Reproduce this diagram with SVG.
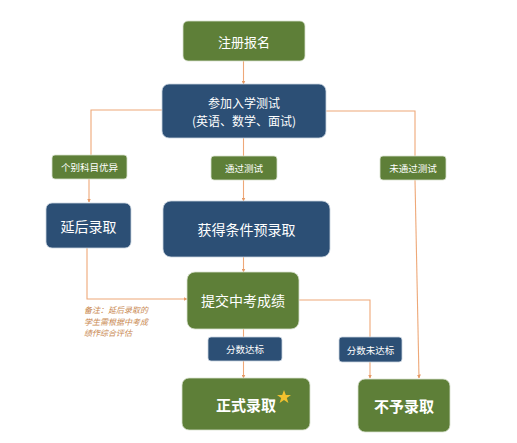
<svg xmlns="http://www.w3.org/2000/svg" width="517" height="443" viewBox="0 0 517 443">
<style>
.g{fill:#5e7f38;stroke:#d9e2cf;stroke-width:0.8}
.b{fill:#2c4f75;stroke:#c9d4e0;stroke-width:0.8}
.t{fill:#ffffff;font-family:"Noto Sans CJK SC","Noto Sans",sans-serif;text-anchor:middle;dominant-baseline:central}
.c{fill:none;stroke:#eea878;stroke-width:1.1}
.note{fill:#c98850;font-family:"Noto Sans CJK SC",sans-serif;font-size:8px;font-style:italic}
</style>
<defs>
<marker id="a" markerWidth="4" markerHeight="4" refX="3.5" refY="2" orient="auto" markerUnits="userSpaceOnUse">
<path d="M0,0 L4,2 L0,4 z" fill="#e59a66"/>
</marker>
</defs>
<rect width="517" height="443" fill="#ffffff"/>
<g id="connectors">
<path class="c" d="M243.5,61 V84" marker-end="url(#a)"/>
<path class="c" d="M162,110 H91 V155"/>
<path class="c" d="M89,179 V202" marker-end="url(#a)"/>
<path class="c" d="M326,111 H415 V156"/>
<path class="c" d="M243.5,138 V156"/>
<path class="c" d="M243.5,180 V201" marker-end="url(#a)"/>
<path class="c" d="M243.5,257 V272" marker-end="url(#a)"/>
<path class="c" d="M87,248 V299 H187" marker-end="url(#a)"/>
<path class="c" d="M243.5,329 V337"/>
<path class="c" d="M243.5,361 V378" marker-end="url(#a)"/>
<path class="c" d="M299,300 H370 V337"/>
<path class="c" d="M370,362 V378" marker-end="url(#a)"/>
<path class="c" d="M415,180 L419,378" marker-end="url(#a)"/>
</g>
<g id="n1"><rect class="g" x="183" y="21" width="122" height="40" rx="5"/><text class="t" x="244" y="41" font-size="13">注册报名</text></g>
<g id="n2"><rect class="b" x="162" y="84" width="164" height="54" rx="7"/><text class="t" x="244" y="102.5" font-size="12">参加入学测试</text><text class="t" x="244" y="120.5" font-size="12">(英语、数学、面试)</text></g>
<g id="l1"><rect class="g" x="52" y="155" width="75" height="24" rx="3"/><text class="t" x="89.5" y="167" font-size="9.5">个别科目优异</text></g>
<g id="l2"><rect class="g" x="211" y="156" width="66" height="24" rx="3"/><text class="t" x="244" y="168" font-size="9.5">通过测试</text></g>
<g id="l3"><rect class="g" x="380" y="156" width="66" height="24" rx="3"/><text class="t" x="413" y="168" font-size="9.5">未通过测试</text></g>
<g id="n3"><rect class="b" x="46" y="203" width="85" height="45" rx="6"/><text class="t" x="88.5" y="225.5" font-size="14">延后录取</text></g>
<g id="n4"><rect class="b" x="163" y="201" width="167" height="56" rx="8"/><text class="t" x="246.5" y="229" font-size="14">获得条件预录取</text></g>
<g id="n5"><rect class="g" x="187" y="272" width="112" height="57" rx="8"/><text class="t" x="243" y="300" font-size="14">提交中考成绩</text></g>
<g id="note"><text class="note" x="84" y="313">备注：延后录取的</text><text class="note" x="84" y="324.6">学生需根据中考成</text><text class="note" x="84" y="336.2">绩作综合评估</text></g>
<g id="l4"><rect class="b" x="208" y="337" width="74" height="24" rx="3"/><text class="t" x="245" y="349" font-size="9.5">分数达标</text></g>
<g id="l5"><rect class="b" x="339" y="337" width="63" height="25" rx="3"/><text class="t" x="370.5" y="349.5" font-size="9.5">分数未达标</text></g>
<g id="n6"><rect class="g" x="182" y="378" width="128" height="52" rx="7"/><text class="t" x="246" y="404" font-size="15" font-weight="bold">正式录取</text><polygon points="284,390 285.8,395 291,395 286.8,398 288.4,403 284,400 279.6,403 281.2,398 277,395 282.2,395" fill="#f2c12e"/></g>
<g id="n7"><rect class="g" x="358" y="379" width="92" height="53" rx="7"/><text class="t" x="404" y="405" font-size="15" font-weight="bold">不予录取</text></g>
</svg>
